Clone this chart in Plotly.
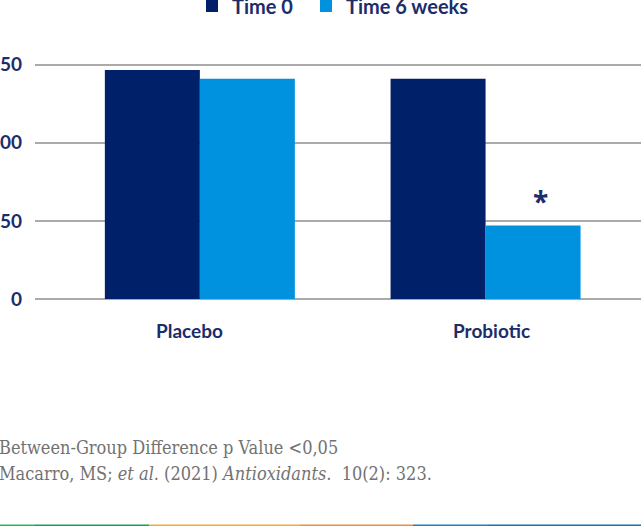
import plotly.graph_objects as go

# ---- data ----
categories = ["Placebo", "Probiotic"]
series_names = ["Time 0", "Time 6 weeks"]
time0_values = [146.5, 141.0]
time6_values = [141.0, 47.0]
y_tick_values = [0, 50, 100, 150]
y_tick_labels = ["0", "50", "100", "150"]
significance_marks = ["", "*"]
footnote_lines = [
    "Between-Group Difference p Value <0,05",
    "Macarro, MS; <i>et al</i>. (2021) <i>Antioxidants</i>.  10(2): 323.",
]

NAVY = "#002169"
LIGHT = "#0091df"
TEXT_NAVY = "#1b2d6b"
GRID = "#aaaaaa"
FOOT = "#727272"

fig = go.Figure()
fig.add_trace(go.Bar(x=categories, y=time0_values, name=series_names[0], legend="legend",
                     marker=dict(color=NAVY, line=dict(width=0))))
fig.add_trace(go.Bar(x=categories, y=time6_values, name=series_names[1], legend="legend2",
                     marker=dict(color=LIGHT, line=dict(width=0))))

# significance asterisk above the Time 6 weeks bars
for i, (cat, mark) in enumerate(zip(categories, significance_marks)):
    if mark:
        fig.add_annotation(x=cat, y=time6_values[i], text=mark, showarrow=False,
                           xshift=55, yshift=4, yanchor="bottom",
                           font=dict(family="Open Sans", size=28, color=TEXT_NAVY, weight="bold"))

# category labels (slightly off-centre as in the original)
for cat, dx in zip(categories, [-10.5, 6]):
    fig.add_annotation(x=cat, y=0, text=f"<b>{cat}</b>", showarrow=False,
                       xshift=dx, yshift=-31, yanchor="middle",
                       font=dict(family="Lato", size=19, color=TEXT_NAVY))

# footnotes
for k, line in enumerate(footnote_lines):
    fig.add_annotation(xref="paper", yref="paper", x=(-38) / 606,
                       y=[-0.592, -0.696][k], text=line, showarrow=False,
                       xanchor="left", yanchor="middle",
                       font=dict(family="DejaVu Serif Condensed", size=18, color=FOOT))

# decorative bottom colour strip
strip = [(0, 35, "#2cb84a"), (35, 149, "#17a050"), (149, 300, "#f2ab2c"),
         (300, 413, "#ec8e3f"), (413, 488, "#1a80c8"), (488, 641, "#1870b0")]
for x0, x1, c in strip:
    fig.add_shape(type="line", xref="paper", yref="paper",
                  x0=(x0 - 35) / 606, x1=(x1 - 35) / 606,
                  y0=(299 - 525.5) / 250, y1=(299 - 525.5) / 250,
                  line=dict(color=c, width=2))

legend_common = dict(orientation="h", xanchor="left", y=1.172, yanchor="middle",
                     font=dict(family="Lato", size=20, color=TEXT_NAVY, weight="bold"),
                     bgcolor="rgba(0,0,0,0)")

fig.update_layout(
    width=641, height=526,
    margin=dict(l=35, r=0, t=49, b=227, autoexpand=False),
    template="none",
    paper_bgcolor="white", plot_bgcolor="white",
    barmode="group", bargap=0.335, bargroupgap=0,
    font=dict(family="Lato", color=TEXT_NAVY),
    showlegend=True,
    legend=dict(x=(192 - 35) / 606, **legend_common),
    legend2=dict(x=(306 - 35) / 606, **legend_common),
    xaxis=dict(range=[-0.577, 1.544], showgrid=False, zeroline=False, showline=False,
               ticks="", showticklabels=False, automargin=False),
    yaxis=dict(range=[0, 160], tickvals=y_tick_values, ticktext=y_tick_labels,
               showgrid=True, gridcolor=GRID, gridwidth=2,
               zeroline=True, zerolinecolor=GRID, zerolinewidth=2,
               showline=False, ticks="", ticklabelstandoff=12, automargin=False,
               tickfont=dict(family="Lato", size=19, color=TEXT_NAVY, weight="bold")),
)

fig.write_html("out.html", config={"displayModeBar": False},
               post_script="document.body.style.margin='0';document.body.style.overflow='hidden';")
